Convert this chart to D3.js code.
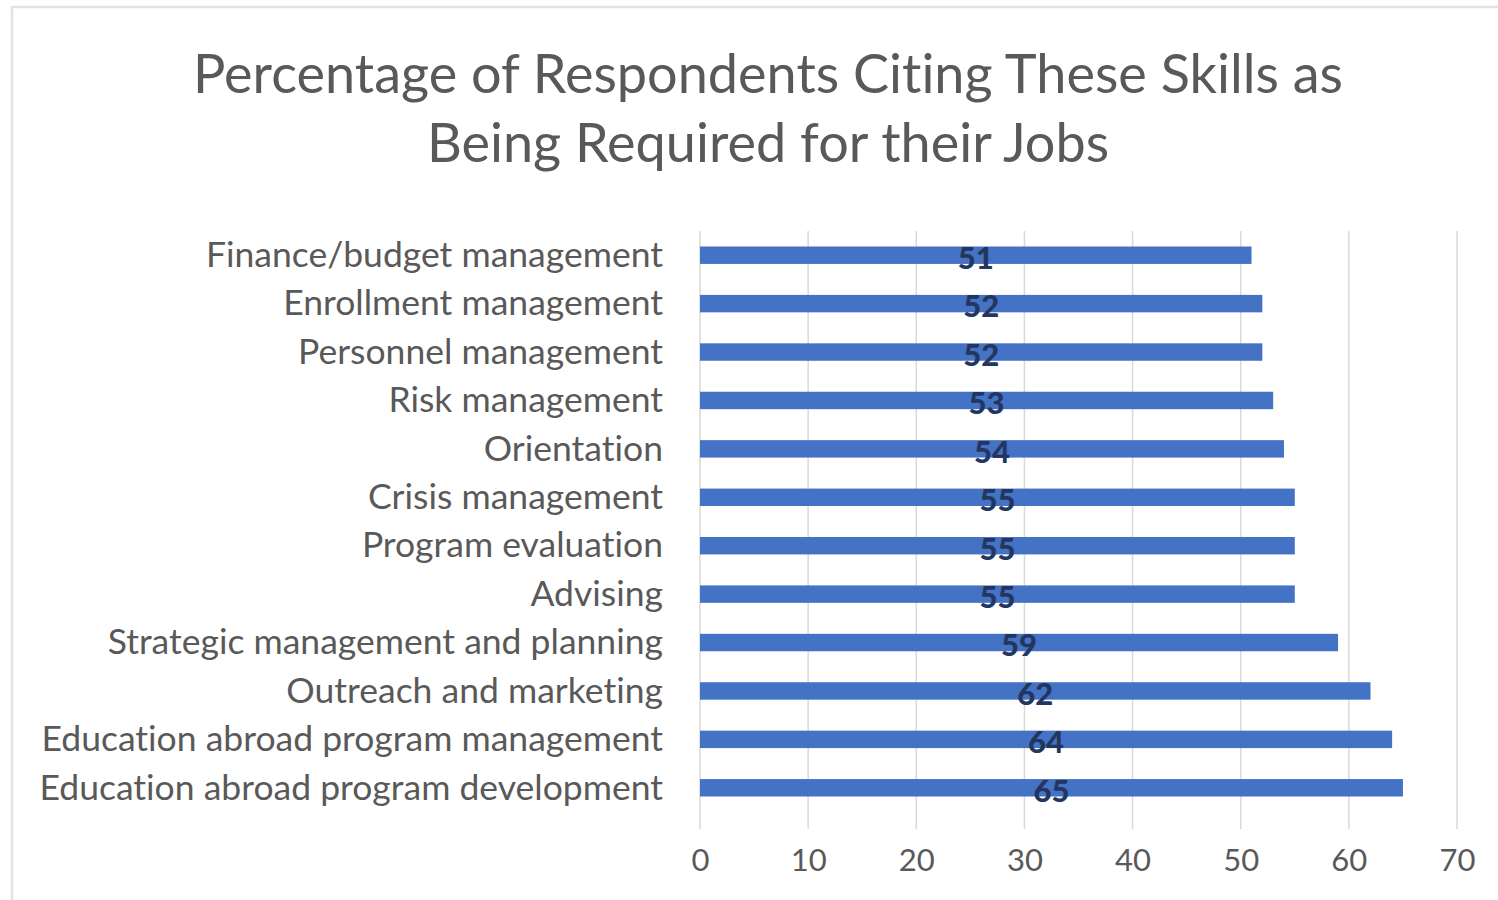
<!DOCTYPE html>
<html>
<head>
<meta charset="utf-8">
<script src="https://cdn.jsdelivr.net/npm/d3@7"></script>
<style>
  html, body { margin: 0; padding: 0; background: #fff; }
  svg { display: block; }
  text {
    font-family: Lato, "Open Sans", sans-serif;
    font-variant-ligatures: none;
    font-feature-settings: "liga" 0, "clig" 0, "dlig" 0, "calt" 0;
    letter-spacing: 0.01px;
  }
</style>
</head>
<body>
<svg id="chart" width="1498" height="900"></svg>
<script>
// Skills, listed top to bottom
const categories = [
  "Finance/budget management",
  "Enrollment management",
  "Personnel management",
  "Risk management",
  "Orientation",
  "Crisis management",
  "Program evaluation",
  "Advising",
  "Strategic management and planning",
  "Outreach and marketing",
  "Education abroad program management",
  "Education abroad program development"
];
// Percentage of respondents citing each skill
const values = [51, 52, 52, 53, 54, 55, 55, 55, 59, 62, 64, 65];
const tickValues = [0, 10, 20, 30, 40, 50, 60, 70];
const titleLines = [
  "Percentage of Respondents Citing These Skills as",
  "Being Required for their Jobs"
];

const W = 1498, H = 900;
const plot = { left: 700, right: 1457, top: 231, bottom: 829 };
const svg = d3.select("#chart");

// Chart frame
svg.append("path")
  .attr("d", `M12,${H} L12,7 L${W},7`)
  .attr("fill", "none")
  .attr("stroke", "#e2e2e2")
  .attr("stroke-width", 2.5);

const x = d3.scaleLinear().domain([0, 70]).range([plot.left, plot.right]);
const y = d3.scaleBand().domain(categories)
  .range([231, 812])
  .paddingInner(0.64).paddingOuter(0.32);

// Title
svg.append("g").selectAll("text").data(titleLines).join("text")
  .attr("x", 768)
  .attr("y", (d, i) => 93 + i * 69)
  .attr("text-anchor", "middle")
  .attr("font-size", 54)
  .attr("fill", "#595959")
  .text(d => d);

// Vertical gridlines
svg.append("g").selectAll("line").data(tickValues).join("line")
  .attr("x1", d => x(d)).attr("x2", d => x(d))
  .attr("y1", plot.top).attr("y2", plot.bottom)
  .attr("stroke", "#d9d9d9").attr("stroke-width", 1.5);

// Bottom axis labels
const xAxis = d3.axisBottom(x).tickValues(tickValues).tickSize(0).tickPadding(0);
const gx = svg.append("g").attr("transform", `translate(0,860)`).call(xAxis);
gx.select(".domain").remove();
gx.selectAll("text")
  .attr("font-family", "Lato, 'Open Sans', sans-serif")
  .attr("font-size", 31).attr("fill", "#595959").attr("dy", "0.35em").attr("y", 0);

// Category labels
const yAxis = d3.axisLeft(y).tickSize(0).tickPadding(0);
const gy = svg.append("g").attr("transform", `translate(663,0)`).call(yAxis);
gy.select(".domain").remove();
gy.selectAll("text")
  .attr("font-family", "Lato, 'Open Sans', sans-serif")
  .attr("font-size", 35.5).attr("fill", "#595959").attr("dy", "0.33em").attr("x", 0);

// Bars
svg.append("g").selectAll("rect").data(values).join("rect")
  .attr("x", x(0))
  .attr("y", (d, i) => y(categories[i]))
  .attr("width", d => x(d) - x(0))
  .attr("height", y.bandwidth())
  .attr("fill", "#4472c4");

// Value labels, centred within each bar
svg.append("g").selectAll("text").data(values).join("text")
  .attr("x", d => x(d / 2))
  .attr("y", (d, i) => y(categories[i]) + y.bandwidth() / 2 + 3)
  .attr("dy", "0.35em")
  .attr("text-anchor", "middle")
  .attr("font-size", 31)
  .attr("font-weight", 900)
  .attr("fill", "#233660")
  .text(d => d);
</script>
</body>
</html>
